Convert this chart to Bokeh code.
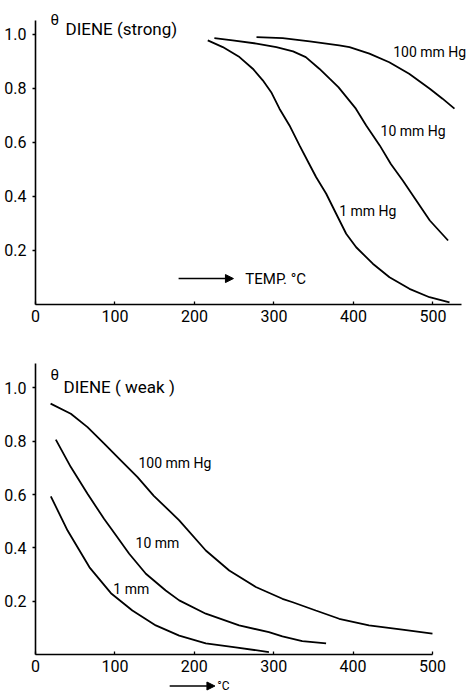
from bokeh.plotting import figure
from bokeh.layouts import column
from bokeh.models import Range1d, FixedTicker, Label, Arrow, NormalHead
from bokeh.embed import file_html
from bokeh.resources import INLINE

# ---- data: top panel (strong) ----
top_x_1mm = [216.7, 235.6, 256.6, 273.3, 285.9, 296.5, 306.9, 319.5, 332.1, 344.0, 353.1,
             365.7, 378.2, 390.8, 403.4, 424.3, 445.3, 470.4, 495.6, 520.8]
top_y_1mm = [0.978, 0.953, 0.916, 0.873, 0.830, 0.786, 0.725, 0.663, 0.589, 0.522, 0.471,
             0.410, 0.336, 0.262, 0.212, 0.151, 0.101, 0.058, 0.027, 0.008]
top_x_10mm = [225, 248, 278, 303, 324, 340, 357, 370, 381, 403, 416, 433, 447, 462, 479, 496, 519]
top_y_10mm = [0.986, 0.978, 0.966, 0.953, 0.937, 0.916, 0.873, 0.836, 0.805, 0.725, 0.663,
              0.589, 0.520, 0.459, 0.385, 0.311, 0.237]
top_x_100mm = [278, 311, 345, 382, 395, 420, 445, 470, 496, 512, 527]
top_y_100mm = [0.990, 0.986, 0.974, 0.959, 0.953, 0.929, 0.897, 0.854, 0.799, 0.762, 0.725]

# ---- data: bottom panel (weak) ----
bot_x_100mm = [19, 44.5, 65.5, 86.5, 107.4, 128.5, 149, 170, 181, 214.5, 244, 277.5, 311,
               324, 353, 382.5, 420, 462, 500]
bot_y_100mm = [0.941, 0.903, 0.853, 0.791, 0.728, 0.665, 0.595, 0.535, 0.503, 0.390, 0.315,
               0.253, 0.209, 0.196, 0.165, 0.134, 0.109, 0.093, 0.078]
bot_x_10mm = [25.6, 44.5, 65.5, 86.5, 97, 118, 139, 164, 181, 214.5, 256.5, 294, 311, 336, 366]
bot_y_10mm = [0.806, 0.703, 0.603, 0.508, 0.465, 0.378, 0.303, 0.240, 0.203, 0.153, 0.109,
              0.084, 0.068, 0.050, 0.042]
bot_x_1mm = [19.3, 40.4, 68, 95, 122, 151.5, 181, 214.5, 252, 294]
bot_y_1mm = [0.593, 0.465, 0.327, 0.230, 0.165, 0.109, 0.071, 0.042, 0.027, 0.009]

x_ticks = [0, 100, 200, 300, 400, 500]
y_ticks = [0.2, 0.4, 0.6, 0.8, 1.0]
y_tick_labels = {0.2: "0.2", 0.4: "0.4", 0.6: "0.6", 0.8: "0.8", 1.0: "1.0"}

FONT = "Roboto"
LW = 1.8


def clean(p):
    p.outline_line_color = None
    p.background_fill_color = "white"
    p.border_fill_color = "white"


def style(p, xb, yb):
    clean(p)
    p.grid.grid_line_color = None
    for ax in (p.xaxis, p.yaxis):
        ax.axis_line_width = 1.6
        ax.axis_line_color = "black"
        ax.major_tick_line_color = "black"
        ax.major_tick_line_width = 1.3
        ax.minor_tick_line_color = None
        ax.major_label_text_font = FONT
        ax.major_label_text_font_size = "16px"
        ax.major_label_text_color = "black"
    p.xaxis.bounds = xb
    p.yaxis.bounds = yb
    p.xaxis.ticker = FixedTicker(ticks=x_ticks)
    p.yaxis.ticker = FixedTicker(ticks=y_ticks)
    p.yaxis.major_label_overrides = y_tick_labels
    p.xaxis.major_tick_in = 3
    p.xaxis.major_tick_out = 0
    p.yaxis.major_tick_in = 0
    p.yaxis.major_tick_out = 3
    p.xaxis.major_label_standoff = 5
    p.yaxis.major_label_standoff = 6


def lab(p, x, y, text, size="14px", align="left", baseline="middle"):
    p.add_layout(Label(x=x, y=y, text=text, text_font=FONT, text_font_size=size,
                       text_color="black", text_align=align, text_baseline=baseline))


def arrow(p, x0, x1, y):
    p.add_layout(Arrow(x_start=x0, y_start=y, x_end=x1, y_end=y,
                       line_color="black", line_width=1.5,
                       end=NormalHead(size=8, fill_color="black", line_color="black")))


# ---- top figure ----
p1 = figure(width=472, height=338, output_backend="svg", toolbar_location=None,
            x_range=Range1d(0, 547.2), y_range=Range1d(0, 1.107),
            min_border_left=35, min_border_right=2, min_border_top=5, min_border_bottom=34)
style(p1, (0, 536), (0, 1.05))
for xs, ys in ((top_x_1mm, top_y_1mm), (top_x_10mm, top_y_10mm), (top_x_100mm, top_y_100mm)):
    p1.line(xs, ys, line_color="black", line_width=LW)

lab(p1, 450, 0.935, "100 mm Hg")
lab(p1, 434, 0.644, "10 mm Hg")
lab(p1, 382, 0.346, "1 mm Hg")
lab(p1, 18.9, 1.052, "θ", size="15px")
lab(p1, 37.7, 1.020, "DIENE (strong)", size="17px")
arrow(p1, 180, 249, 0.096)
lab(p1, 264, 0.096, "TEMP. °C", size="15px")

# ---- bottom figure ----
p2 = figure(width=472, height=340, output_backend="svg", toolbar_location=None,
            x_range=Range1d(0, 547.9), y_range=Range1d(0, 1.159),
            min_border_left=35, min_border_right=2, min_border_top=7, min_border_bottom=24)
style(p2, (0, 500), (0, 1.09))
for xs, ys in ((bot_x_100mm, bot_y_100mm), (bot_x_10mm, bot_y_10mm), (bot_x_1mm, bot_y_1mm)):
    p2.line(xs, ys, line_color="black", line_width=LW)

lab(p2, 129.7, 0.72, "100 mm Hg")
lab(p2, 126, 0.418, "10 mm")
lab(p2, 98, 0.244, "1 mm")
lab(p2, 18.9, 1.047, "θ", size="15px")
lab(p2, 35.3, 1.002, "DIENE ( weak )", size="17px")

# ---- caption strip under the lower axis ("→ °C") ----
p3 = figure(width=472, height=15, output_backend="svg", toolbar_location=None,
            x_range=p2.x_range, y_range=Range1d(0, 1),
            x_axis_type=None, y_axis_type=None,
            min_border_left=35, min_border_right=2, min_border_top=0, min_border_bottom=0)
clean(p3)
arrow(p3, 169, 226, 0.5)
lab(p3, 229, 0.5, "°C", size="12px")

layout = column(p1, p2, p3, spacing=0)
open("out.html", "w").write(file_html(layout, INLINE))
